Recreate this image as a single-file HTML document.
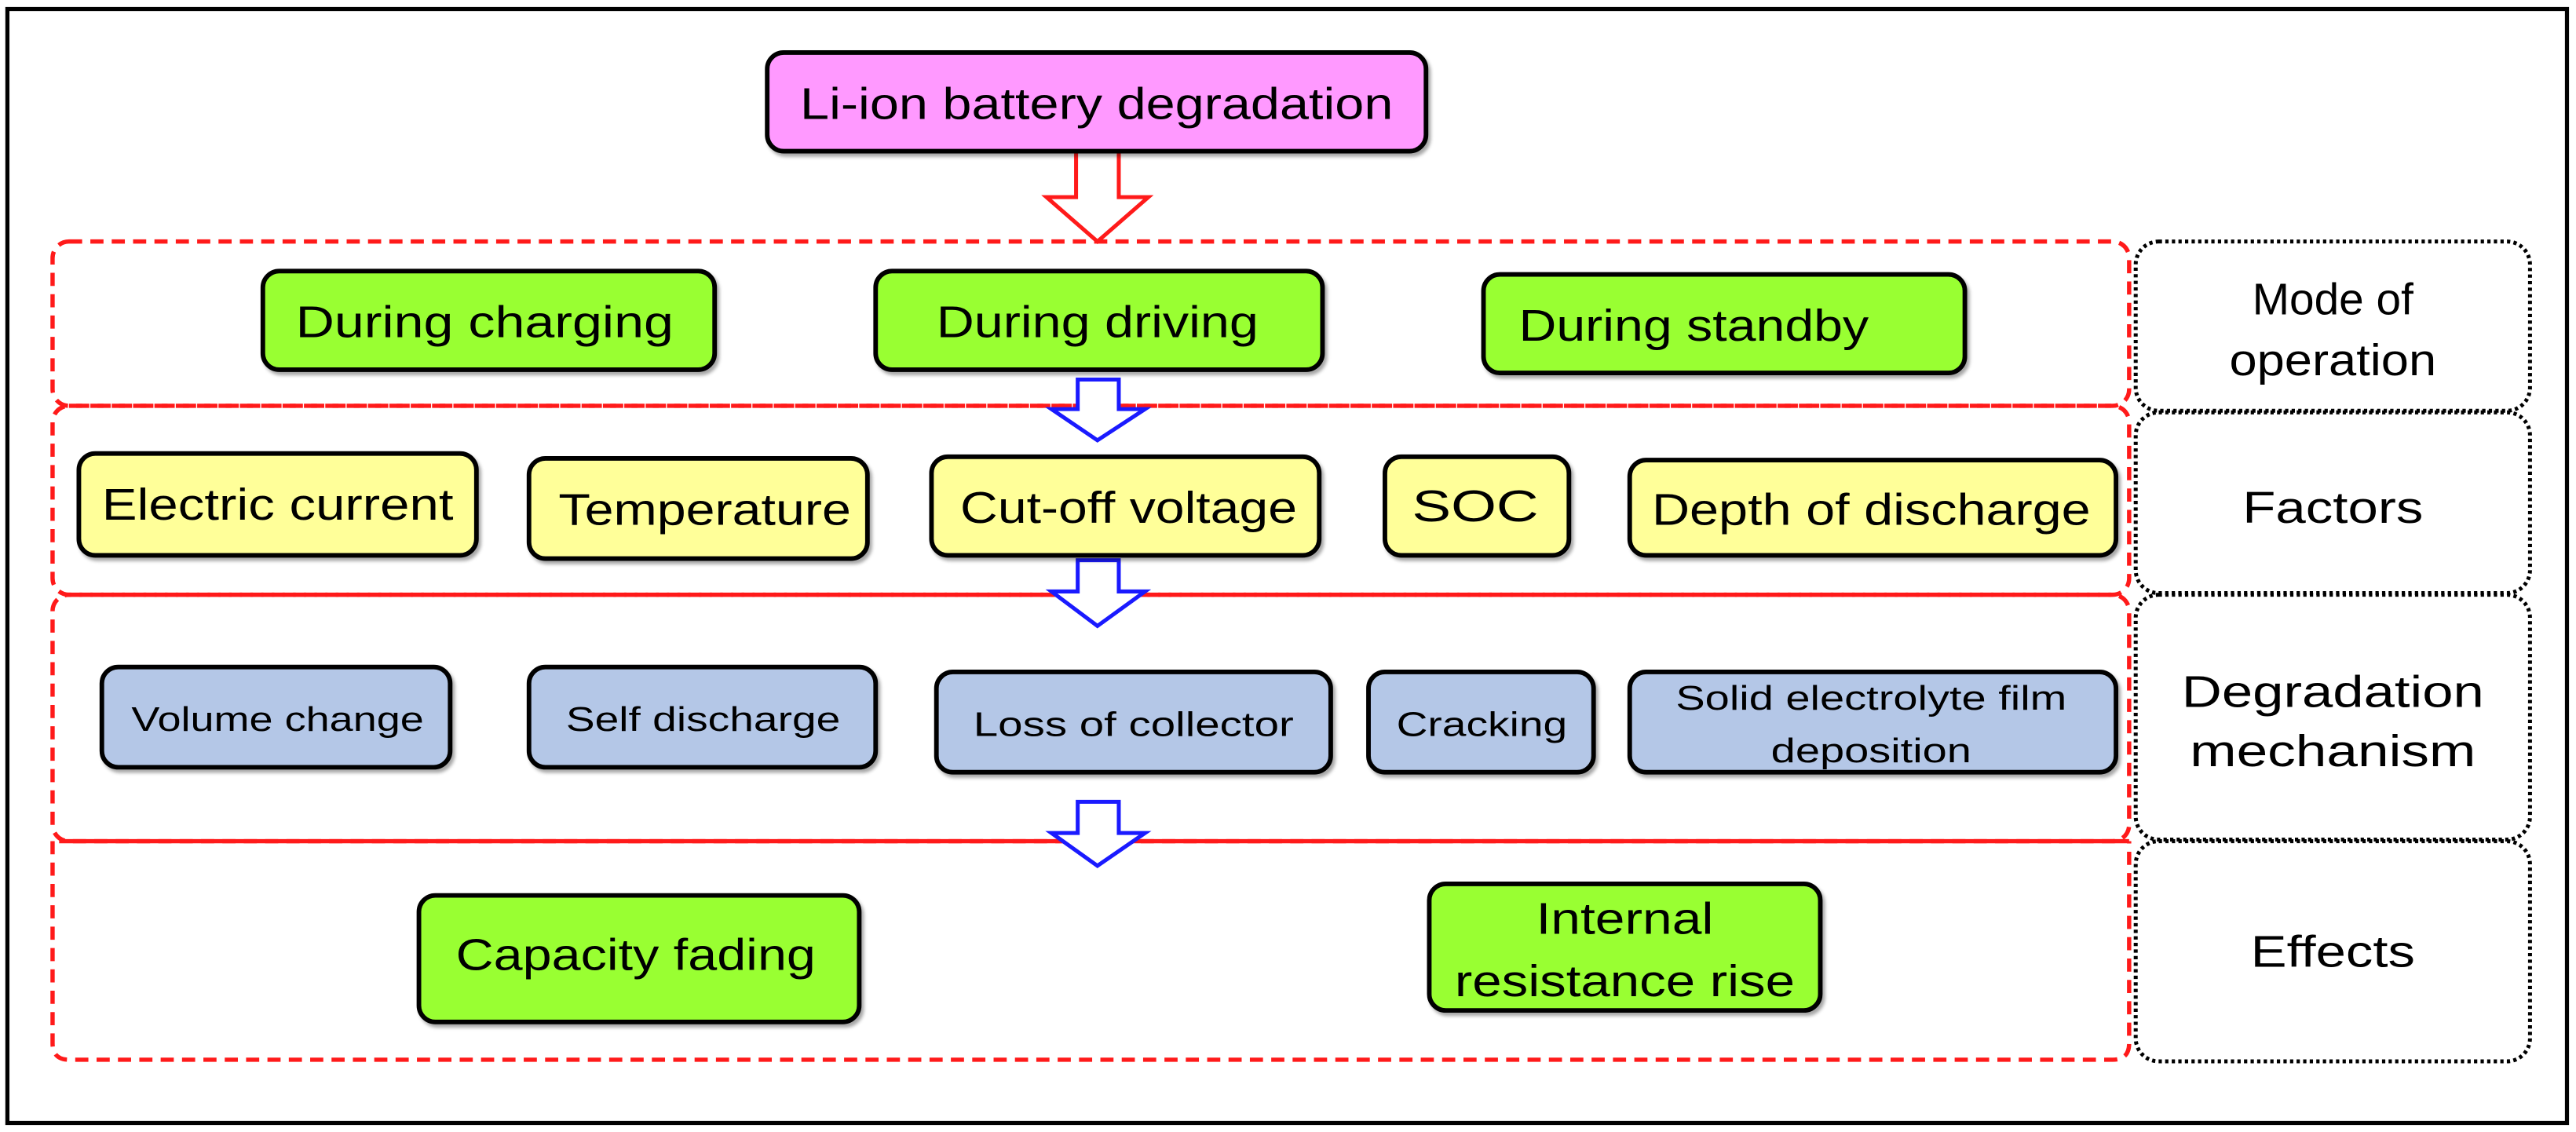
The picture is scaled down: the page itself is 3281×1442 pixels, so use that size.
<!DOCTYPE html>
<html><head><meta charset="utf-8"><style>
html,body{margin:0;padding:0;background:#fff}
svg{display:block}
text{font-family:"Liberation Sans",Arial,sans-serif;fill:#000}
</style></head><body>
<svg width="3281" height="1442" viewBox="0 0 1568 689" preserveAspectRatio="none" xmlns="http://www.w3.org/2000/svg">
<defs>
<filter id="sh" x="-5%" y="-10%" width="115%" height="130%"><feDropShadow dx="1.5" dy="2" stdDeviation="1" flood-color="#000" flood-opacity="0.35"/></filter>
</defs>
<rect x="0" y="0" width="1568" height="689" fill="#fff"/>
<rect x="4.5" y="5.5" width="1558" height="678" fill="none" stroke="#000" stroke-width="2.5"/>

<!-- red dashed group boxes -->
<g fill="none" stroke="#ff1a1a" stroke-width="2.6" stroke-dasharray="8,5">
<rect x="32" y="147" width="1264" height="100" rx="10"/>
<rect x="32" y="247" width="1264" height="115" rx="10"/>
<rect x="32" y="362" width="1264" height="150" rx="10"/>
<path d="M32 512 L32 635 Q32 645 42 645 L1286 645 Q1296 645 1296 635 L1296 512"/>
</g>
<line x1="36" y1="512" x2="1296" y2="512" stroke="#ff1a1a" stroke-width="2.6"/>

<!-- right dotted boxes -->
<g fill="none" stroke="#000" stroke-width="2.4" stroke-dasharray="2,2">
<rect x="1300" y="147" width="240" height="103" rx="14"/>
<rect x="1300" y="251" width="240" height="110" rx="14"/>
<rect x="1300" y="362" width="240" height="149" rx="14"/>
<rect x="1300" y="512" width="240" height="134" rx="14"/>
</g>

<!-- arrows -->
<path d="M655 92 L681 92 L681 120 L699 120 L668 147 L637 120 L655 120 Z" fill="#fff" stroke="#ff1a1a" stroke-width="2.4"/>
<g fill="#fff" stroke="#1a1aff" stroke-width="2.4">
<path d="M656 231 L681 231 L681 249 L697 249 L668 268 L640 249 L656 249 Z"/>
<path d="M656 341 L681 341 L681 360 L697 360 L668 381 L640 360 L656 360 Z"/>
<path d="M656 488 L681 488 L681 507 L697 507 L668 527 L640 507 L656 507 Z"/>
</g>

<!-- nodes -->
<g stroke="#000" stroke-width="2.8" filter="url(#sh)">
<rect x="467" y="32" width="401" height="60" rx="10" fill="#ff99ff"/>
<rect x="160" y="165" width="275" height="60" rx="10" fill="#99ff33"/>
<rect x="533" y="165" width="272" height="60" rx="10" fill="#99ff33"/>
<rect x="903" y="167" width="293" height="60" rx="10" fill="#99ff33"/>
<rect x="48" y="276" width="242" height="62" rx="10" fill="#ffff99"/>
<rect x="322" y="279" width="206" height="61" rx="10" fill="#ffff99"/>
<rect x="567" y="278" width="236" height="60" rx="10" fill="#ffff99"/>
<rect x="843" y="278" width="112" height="60" rx="10" fill="#ffff99"/>
<rect x="992" y="280" width="296" height="58" rx="10" fill="#ffff99"/>
<rect x="62" y="406" width="212" height="61" rx="10" fill="#b4c7e7"/>
<rect x="322" y="406" width="211" height="61" rx="10" fill="#b4c7e7"/>
<rect x="570" y="409" width="240" height="61" rx="10" fill="#b4c7e7"/>
<rect x="833" y="409" width="137" height="61" rx="10" fill="#b4c7e7"/>
<rect x="992" y="409" width="296" height="61" rx="10" fill="#b4c7e7"/>
<rect x="255" y="545" width="268" height="77" rx="10" fill="#99ff33"/>
<rect x="870" y="538" width="238" height="77" rx="10" fill="#99ff33"/>
</g>

<!-- labels -->
<g font-size="27" text-anchor="middle" dominant-baseline="central">
<text x="667.5" y="63" textLength="361" lengthAdjust="spacingAndGlyphs">Li-ion battery degradation</text>
<text x="295" y="196" textLength="230" lengthAdjust="spacingAndGlyphs">During charging</text>
<text x="668" y="196" textLength="196" lengthAdjust="spacingAndGlyphs">During driving</text>
<text x="1031" y="198" textLength="213" lengthAdjust="spacingAndGlyphs">During standby</text>
<text x="169" y="307" textLength="214" lengthAdjust="spacingAndGlyphs">Electric current</text>
<text x="429" y="310" textLength="178" lengthAdjust="spacingAndGlyphs">Temperature</text>
<text x="687" y="309" textLength="205" lengthAdjust="spacingAndGlyphs">Cut-off voltage</text>
<text x="898" y="308" textLength="77" lengthAdjust="spacingAndGlyphs">SOC</text>
<text x="1139" y="310" textLength="267" lengthAdjust="spacingAndGlyphs">Depth of discharge</text>
<text x="387" y="581" textLength="219" lengthAdjust="spacingAndGlyphs">Capacity fading</text>
<text x="989" y="559" textLength="108" lengthAdjust="spacingAndGlyphs">Internal</text>
<text x="989" y="597" textLength="207" lengthAdjust="spacingAndGlyphs">resistance rise</text>
<text x="1420" y="182" textLength="98" lengthAdjust="spacingAndGlyphs">Mode of</text>
<text x="1420" y="219" textLength="126" lengthAdjust="spacingAndGlyphs">operation</text>
<text x="1420" y="309" textLength="110" lengthAdjust="spacingAndGlyphs">Factors</text>
<text x="1420" y="421" textLength="184" lengthAdjust="spacingAndGlyphs">Degradation</text>
<text x="1420" y="457" textLength="174" lengthAdjust="spacingAndGlyphs">mechanism</text>
<text x="1420" y="579" textLength="100" lengthAdjust="spacingAndGlyphs">Effects</text>
</g>
<g font-size="21" text-anchor="middle" dominant-baseline="central">
<text x="169" y="438" textLength="178" lengthAdjust="spacingAndGlyphs">Volume change</text>
<text x="428" y="438" textLength="167" lengthAdjust="spacingAndGlyphs">Self discharge</text>
<text x="690" y="441" textLength="195" lengthAdjust="spacingAndGlyphs">Loss of collector</text>
<text x="902" y="441" textLength="104" lengthAdjust="spacingAndGlyphs">Cracking</text>
<text x="1139" y="425" textLength="238" lengthAdjust="spacingAndGlyphs">Solid electrolyte film</text>
<text x="1139" y="457" textLength="122" lengthAdjust="spacingAndGlyphs">deposition</text>
</g>
</svg>
</body></html>
